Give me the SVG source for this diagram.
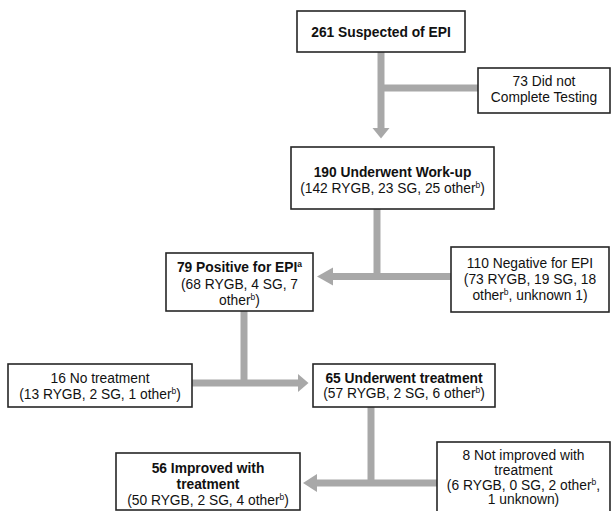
<svg xmlns="http://www.w3.org/2000/svg" width="616" height="511" viewBox="0 0 616 511">
<style>
.box{fill:#fff;stroke:#262626;stroke-width:1.6}
.t{font-family:"Liberation Sans",Arial,sans-serif;font-size:13.8px;fill:#111;text-anchor:middle}
.b{font-weight:bold}
.sup{font-size:8.5px}
.shaft{stroke:#a8a8a8;stroke-width:7;fill:none}
.head{fill:#a8a8a8;stroke:none}
</style>
<rect width="616" height="511" fill="#fff"/>
<g id="connectors">
<line class="shaft" x1="381" y1="52" x2="381" y2="129"/>
<polygon class="head" points="372.5,128 389.5,128 381,138.5"/>
<line class="shaft" x1="381" y1="88" x2="478" y2="88"/>
<line class="shaft" x1="377" y1="209" x2="377" y2="280"/>
<line class="shaft" x1="451" y1="276.5" x2="332" y2="276.5"/>
<polygon class="head" points="333,267.5 333,285.5 317,276.5"/>
<line class="shaft" x1="244" y1="311" x2="244" y2="386"/>
<line class="shaft" x1="192" y1="383" x2="299" y2="383"/>
<polygon class="head" points="298,374 298,392 308.5,383"/>
<line class="shaft" x1="371" y1="407" x2="371" y2="486"/>
<line class="shaft" x1="437" y1="483" x2="316" y2="483"/>
<polygon class="head" points="317,474 317,492 303,483"/>
</g>
<g id="n261">
<rect class="box" x="297" y="11" width="168" height="41"/>
<text class="t b" x="381" y="36.5">261 Suspected of EPI</text>
</g>
<g id="n73">
<rect class="box" x="478" y="68" width="132" height="45"/>
<text class="t" x="544" y="86">73 Did not</text>
<text class="t" x="544" y="102">Complete Testing</text>
</g>
<g id="n190">
<rect class="box" x="291" y="147" width="203" height="62"/>
<text class="t b" x="392.5" y="176.5">190 Underwent Work-up</text>
<text class="t" x="392.5" y="193">(142 RYGB, 23 SG, 25 other<tspan class="sup" dy="-5">b</tspan><tspan dy="5">)</tspan></text>
</g>
<g id="n110">
<rect class="box" x="451" y="247" width="158" height="65"/>
<text class="t" x="530" y="268">110 Negative for EPI</text>
<text class="t" x="530" y="284">(73 RYGB, 19 SG, 18</text>
<text class="t" x="530" y="300">other<tspan class="sup" dy="-5">b</tspan><tspan dy="5">, unknown 1)</tspan></text>
</g>
<g id="n79">
<rect class="box" x="166" y="253" width="147" height="58"/>
<text class="t b" x="239.5" y="271.5">79 Positive for EPI<tspan class="sup" dy="-5">a</tspan></text>
<text class="t" x="239.5" y="288.5">(68 RYGB, 4 SG, 7</text>
<text class="t" x="239.5" y="305">other<tspan class="sup" dy="-5">b</tspan><tspan dy="5">)</tspan></text>
</g>
<g id="n16">
<rect class="box" x="8" y="364" width="184" height="43"/>
<text class="t" x="100" y="382.5">16 No treatment</text>
<text class="t" x="100" y="398.5">(13 RYGB, 2 SG, 1 other<tspan class="sup" dy="-5">b</tspan><tspan dy="5">)</tspan></text>
</g>
<g id="n65">
<rect class="box" x="313" y="364" width="182" height="43"/>
<text class="t b" x="404" y="382.5">65 Underwent treatment</text>
<text class="t" x="404" y="398">(57 RYGB, 2 SG, 6 other<tspan class="sup" dy="-5">b</tspan><tspan dy="5">)</tspan></text>
</g>
<g id="n8">
<rect class="box" x="437" y="442" width="173" height="74"/>
<text class="t" x="523.5" y="460">8 Not improved with</text>
<text class="t" x="523.5" y="475">treatment</text>
<text class="t" x="523.5" y="489.5">(6 RYGB, 0 SG, 2 other<tspan class="sup" dy="-5">b</tspan><tspan dy="5">,</tspan></text>
<text class="t" x="523.5" y="503.5">1 unknown)</text>
</g>
<g id="n56">
<rect class="box" x="116" y="453" width="184" height="57"/>
<text class="t b" x="208" y="472.5">56 Improved with</text>
<text class="t b" x="208" y="489">treatment</text>
<text class="t" x="208" y="505">(50 RYGB, 2 SG, 4 other<tspan class="sup" dy="-5">b</tspan><tspan dy="5">)</tspan></text>
</g>
</svg>
